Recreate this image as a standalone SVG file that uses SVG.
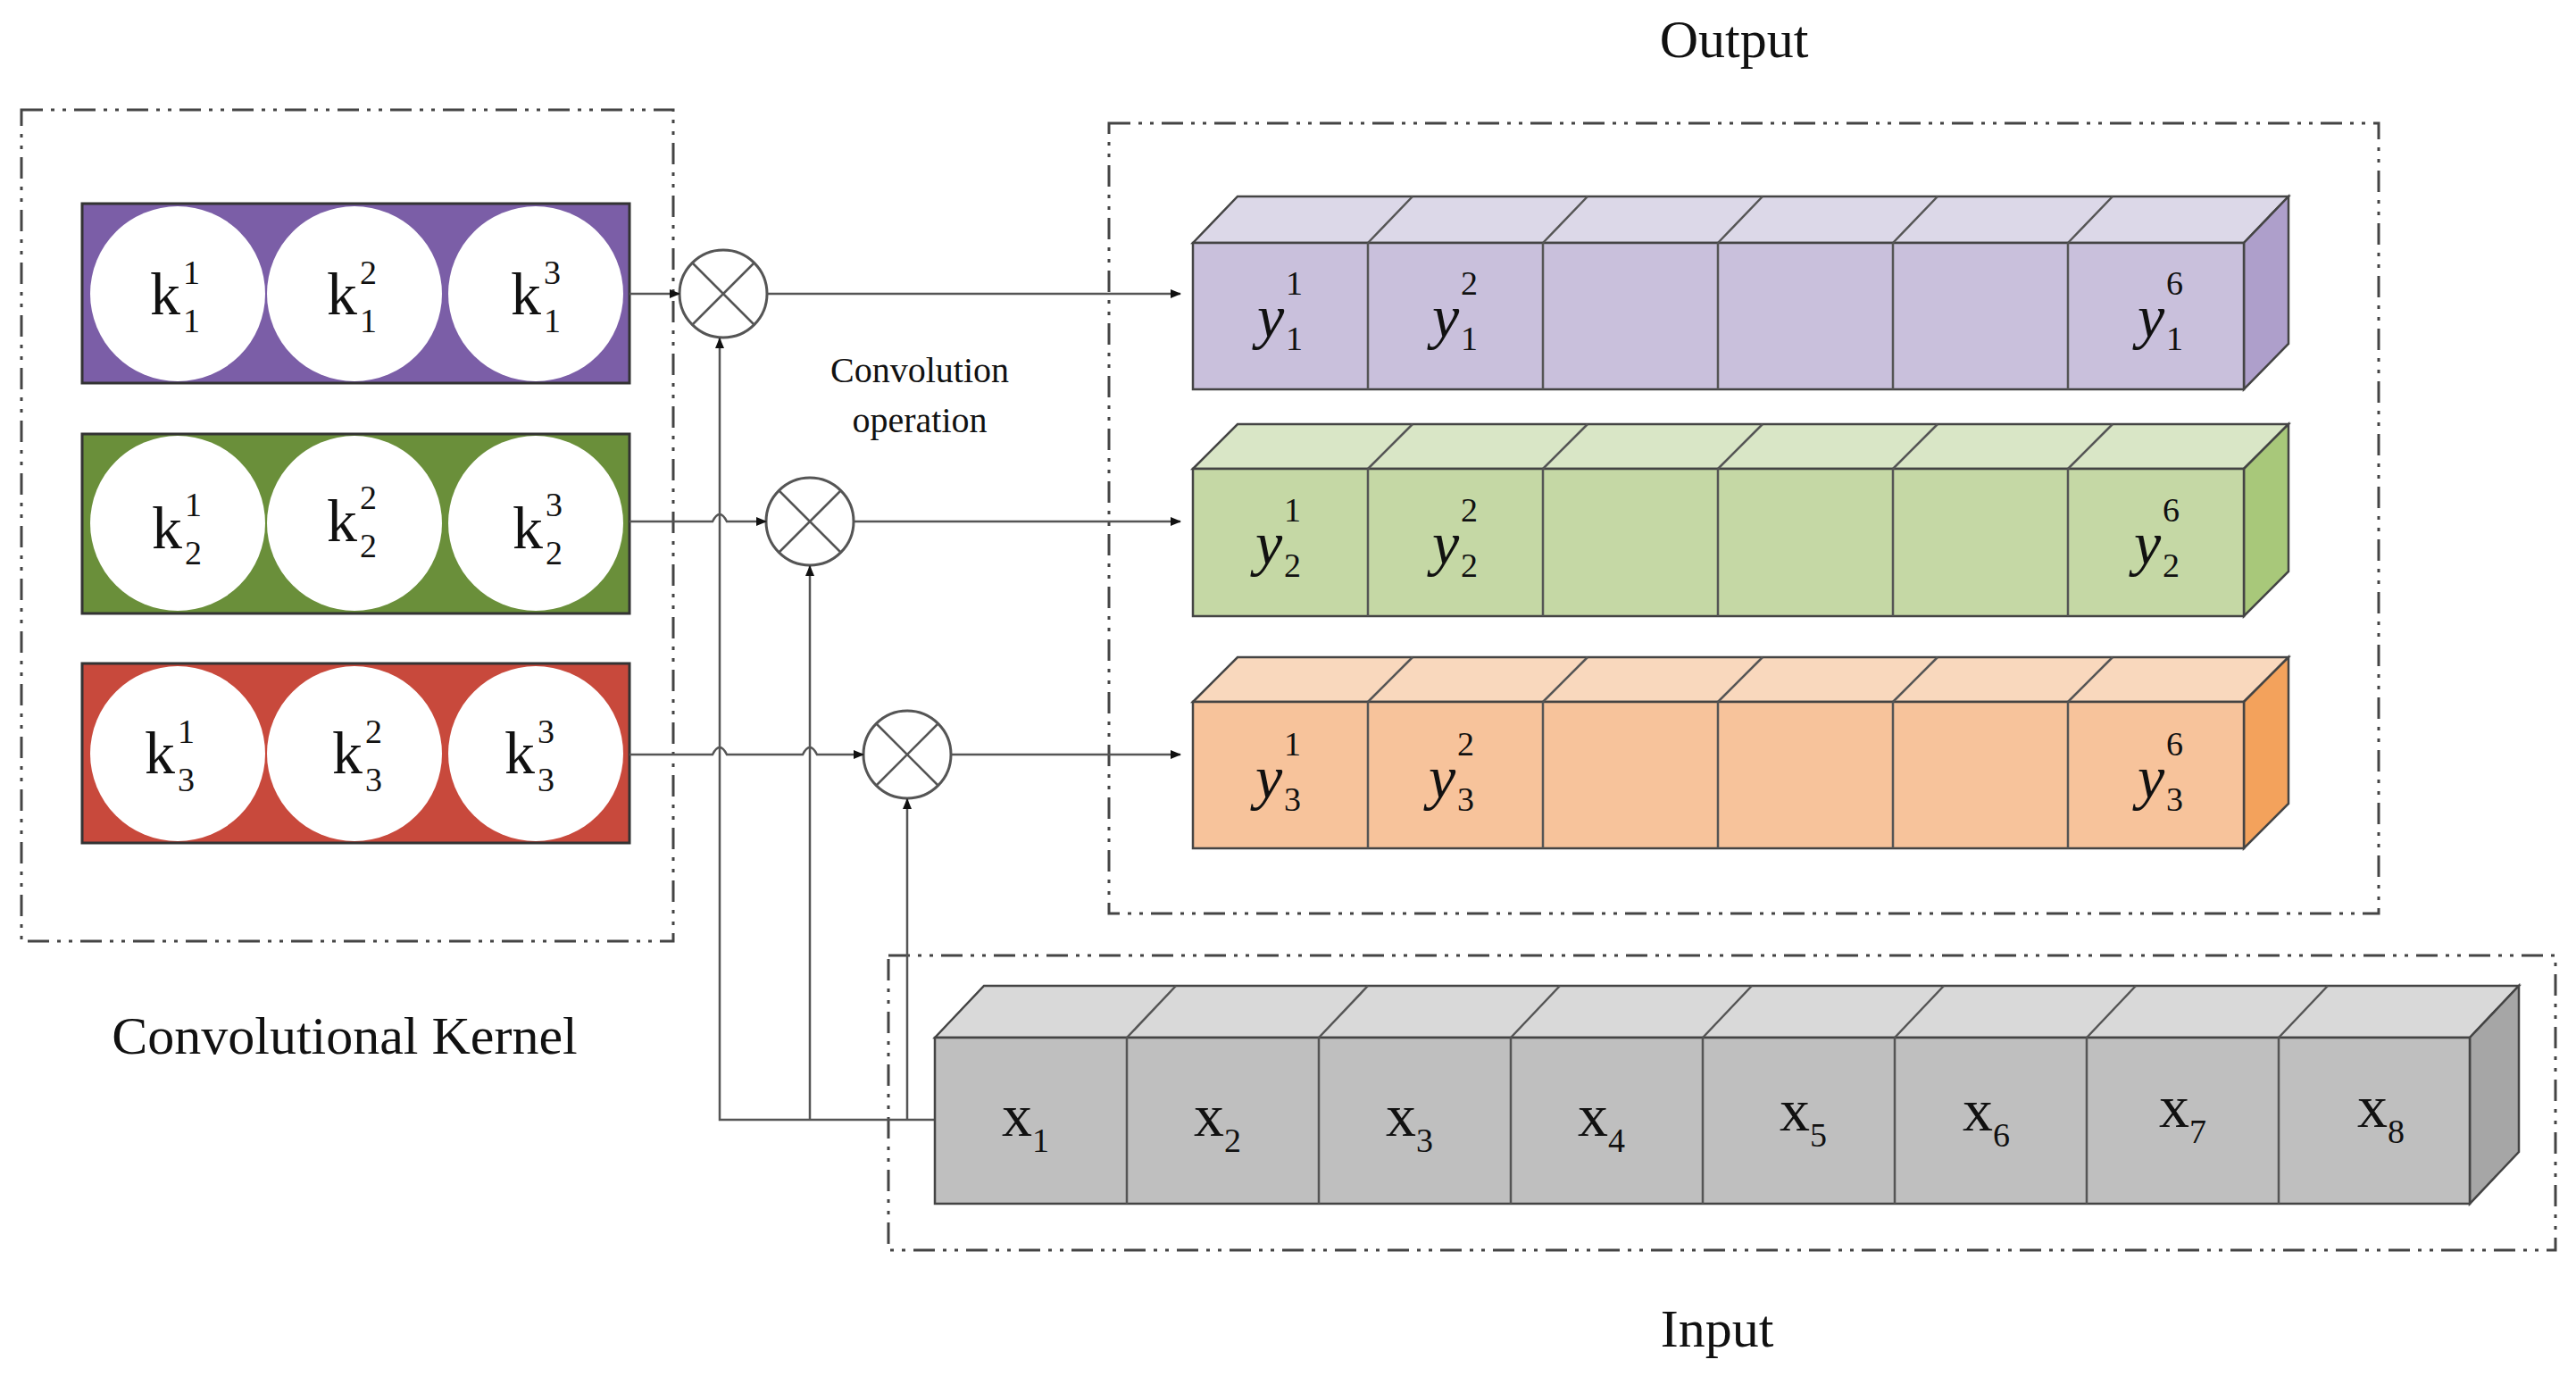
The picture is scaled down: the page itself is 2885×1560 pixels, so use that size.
<svg xmlns="http://www.w3.org/2000/svg" width="2885" height="1560" viewBox="0 0 2885 1560">
<style>
text{font-family:"Liberation Serif","Times New Roman",serif;fill:#111}
.dash{fill:none;stroke:#444;stroke-width:3;stroke-dasharray:24 9 4 9 4 9}
.ln{fill:none;stroke:#555;stroke-width:2.5}
.cell{stroke:#444;stroke-width:2.5}
.k{font-size:68px}
.ks{font-size:38px}
.y{font-size:68px;font-style:italic}
.ys{font-size:38px}
.lab{font-size:60px}
</style>
<defs>
<marker id="ah" markerWidth="12" markerHeight="10" refX="11" refY="5" orient="auto" markerUnits="userSpaceOnUse" viewBox="0 0 12 10"><path d="M0,0 L12,5 L0,10 Z" fill="#111"/></marker>
</defs>
<rect width="2885" height="1560" fill="#fff"/>

<g id="kernel-frame"><rect class="dash" x="24" y="123" width="730" height="931"/></g>
<g id="output-frame"><rect class="dash" x="1242" y="138" width="1422" height="885"/></g>
<g id="input-frame"><rect class="dash" x="995" y="1070" width="1867" height="330"/></g>

<g id="kernel1">
<rect x="92" y="228" width="613" height="201" fill="#7b5ea7" stroke="#333" stroke-width="3"/>
<circle cx="199" cy="329" r="98" fill="#fff"/><circle cx="397" cy="329" r="98" fill="#fff"/><circle cx="600" cy="329" r="98" fill="#fff"/>
<text class="k" x="168" y="352">k</text><text class="ks" x="205" y="318">1</text><text class="ks" x="205" y="372">1</text>
<text class="k" x="366" y="352">k</text><text class="ks" x="403" y="318">2</text><text class="ks" x="403" y="372">1</text>
<text class="k" x="572" y="352">k</text><text class="ks" x="609" y="318">3</text><text class="ks" x="609" y="372">1</text>
</g>
<g id="kernel2">
<rect x="92" y="486" width="613" height="201" fill="#6a8f3a" stroke="#333" stroke-width="3"/>
<circle cx="199" cy="586" r="98" fill="#fff"/><circle cx="397" cy="586" r="98" fill="#fff"/><circle cx="600" cy="586" r="98" fill="#fff"/>
<text class="k" x="170" y="614">k</text><text class="ks" x="207" y="578">1</text><text class="ks" x="207" y="632">2</text>
<text class="k" x="366" y="606">k</text><text class="ks" x="403" y="570">2</text><text class="ks" x="403" y="624">2</text>
<text class="k" x="574" y="614">k</text><text class="ks" x="611" y="578">3</text><text class="ks" x="611" y="632">2</text>
</g>
<g id="kernel3">
<rect x="92" y="743" width="613" height="201" fill="#c8493c" stroke="#333" stroke-width="3"/>
<circle cx="199" cy="844" r="98" fill="#fff"/><circle cx="397" cy="844" r="98" fill="#fff"/><circle cx="600" cy="844" r="98" fill="#fff"/>
<text class="k" x="162" y="866">k</text><text class="ks" x="199" y="832">1</text><text class="ks" x="199" y="886">3</text>
<text class="k" x="372" y="866">k</text><text class="ks" x="409" y="832">2</text><text class="ks" x="409" y="886">3</text>
<text class="k" x="565" y="866">k</text><text class="ks" x="602" y="832">3</text><text class="ks" x="602" y="886">3</text>
</g>

<g id="mult1"><circle cx="810" cy="329" r="49" fill="#fff" stroke="#555" stroke-width="3"/><path class="ln" d="M775,294 L845,364 M845,294 L775,364"/></g>
<g id="mult2"><circle cx="907" cy="584" r="49" fill="#fff" stroke="#555" stroke-width="3"/><path class="ln" d="M872,549 L942,619 M942,549 L872,619"/></g>
<g id="mult3"><circle cx="1016" cy="845" r="49" fill="#fff" stroke="#555" stroke-width="3"/><path class="ln" d="M981,810 L1051,880 M1051,810 L981,880"/></g>

<g id="conv-label">
<text x="1030" y="428" font-size="40" text-anchor="middle">Convolution</text>
<text x="1030" y="484" font-size="40" text-anchor="middle">operation</text>
</g>

<g id="connectors">
<path class="ln" d="M705,329 L761,329" marker-end="url(#ah)"/>
<path class="ln" d="M705,584 L798,584 Q806,568 814,584 L858,584" marker-end="url(#ah)"/>
<path class="ln" d="M705,845 L798,845 Q806,829 814,845 L899,845 Q907,829 915,845 L967,845" marker-end="url(#ah)"/>
<path class="ln" d="M859,329 L1322,329" marker-end="url(#ah)"/>
<path class="ln" d="M956,584 L1322,584" marker-end="url(#ah)"/>
<path class="ln" d="M1065,845 L1322,845" marker-end="url(#ah)"/>
<path class="ln" d="M1047,1254 L806,1254 L806,379" marker-end="url(#ah)"/>
<path class="ln" d="M907,1254 L907,634" marker-end="url(#ah)"/>
<path class="ln" d="M1016,1254 L1016,895" marker-end="url(#ah)"/>
</g>

<g id="output1">
<path class="cell" d="M1336,272 L1386,220 L2563,220 L2513,272 Z" fill="#dcd8e8"/>
<path class="cell" d="M2513,272 L2563,220 L2563,385 L2513,436 Z" fill="#ae9fcb"/>
<rect class="cell" x="1336" y="272" width="1177" height="164" fill="#c9c0dc"/>
<path class="ln" d="M1532,272 V436 M1728,272 V436 M1924,272 V436 M2120,272 V436 M2316,272 V436 M1532,272 L1582,220 M1728,272 L1778,220 M1924,272 L1974,220 M2120,272 L2170,220 M2316,272 L2366,220"/>
<text class="y" x="1408" y="378">y</text><text class="ys" x="1440" y="330">1</text><text class="ys" x="1440" y="392">1</text>
<text class="y" x="1604" y="378">y</text><text class="ys" x="1636" y="330">2</text><text class="ys" x="1636" y="392">1</text>
<text class="y" x="2394" y="378">y</text><text class="ys" x="2426" y="330">6</text><text class="ys" x="2426" y="392">1</text>
</g>
<g id="output2">
<path class="cell" d="M1336,525 L1386,475 L2563,475 L2513,525 Z" fill="#d9e6c6"/>
<path class="cell" d="M2513,525 L2563,475 L2563,640 L2513,690 Z" fill="#a8c87a"/>
<rect class="cell" x="1336" y="525" width="1177" height="165" fill="#c5d8a5"/>
<path class="ln" d="M1532,525 V690 M1728,525 V690 M1924,525 V690 M2120,525 V690 M2316,525 V690 M1532,525 L1582,475 M1728,525 L1778,475 M1924,525 L1974,475 M2120,525 L2170,475 M2316,525 L2366,475"/>
<text class="y" x="1406" y="632">y</text><text class="ys" x="1438" y="584">1</text><text class="ys" x="1438" y="646">2</text>
<text class="y" x="1604" y="632">y</text><text class="ys" x="1636" y="584">2</text><text class="ys" x="1636" y="646">2</text>
<text class="y" x="2390" y="632">y</text><text class="ys" x="2422" y="584">6</text><text class="ys" x="2422" y="646">2</text>
</g>
<g id="output3">
<path class="cell" d="M1336,786 L1386,736 L2563,736 L2513,786 Z" fill="#f9d8bd"/>
<path class="cell" d="M2513,786 L2563,736 L2563,900 L2513,950 Z" fill="#f3a25c"/>
<rect class="cell" x="1336" y="786" width="1177" height="164" fill="#f7c39b"/>
<path class="ln" d="M1532,786 V950 M1728,786 V950 M1924,786 V950 M2120,786 V950 M2316,786 V950 M1532,786 L1582,736 M1728,786 L1778,736 M1924,786 L1974,736 M2120,786 L2170,736 M2316,786 L2366,736"/>
<text class="y" x="1406" y="894">y</text><text class="ys" x="1438" y="846">1</text><text class="ys" x="1438" y="908">3</text>
<text class="y" x="1600" y="894">y</text><text class="ys" x="1632" y="846">2</text><text class="ys" x="1632" y="908">3</text>
<text class="y" x="2394" y="894">y</text><text class="ys" x="2426" y="846">6</text><text class="ys" x="2426" y="908">3</text>
</g>

<g id="input">
<path class="cell" d="M1047,1162 L1102,1104 L2821,1104 L2766,1162 Z" fill="#d9d9d9"/>
<path class="cell" d="M2766,1162 L2821,1104 L2821,1290 L2766,1348 Z" fill="#a6a6a6"/>
<rect class="cell" x="1047" y="1162" width="1719" height="186" fill="#bfbfbf"/>
<path class="ln" d="M1262,1162 V1348 M1477,1162 V1348 M1692,1162 V1348 M1907,1162 V1348 M2122,1162 V1348 M2337,1162 V1348 M2552,1162 V1348 M1262,1162 L1317,1104 M1477,1162 L1532,1104 M1692,1162 L1747,1104 M1907,1162 L1962,1104 M2122,1162 L2177,1104 M2337,1162 L2392,1104 M2552,1162 L2607,1104"/>
<text class="k" x="1122" y="1272">x</text><text class="ks" x="1156" y="1290">1</text>
<text class="k" x="1337" y="1272">x</text><text class="ks" x="1371" y="1290">2</text>
<text class="k" x="1552" y="1272">x</text><text class="ks" x="1586" y="1290">3</text>
<text class="k" x="1767" y="1272">x</text><text class="ks" x="1801" y="1290">4</text>
<text class="k" x="1993" y="1266">x</text><text class="ks" x="2027" y="1284">5</text>
<text class="k" x="2198" y="1266">x</text><text class="ks" x="2232" y="1284">6</text>
<text class="k" x="2418" y="1262">x</text><text class="ks" x="2452" y="1280">7</text>
<text class="k" x="2640" y="1262">x</text><text class="ks" x="2674" y="1280">8</text>
</g>

<g id="labels">
<text class="lab" x="1942" y="64" text-anchor="middle">Output</text>
<text class="lab" x="386" y="1180" text-anchor="middle">Convolutional Kernel</text>
<text class="lab" x="1923" y="1508" text-anchor="middle">Input</text>
</g>
</svg>
